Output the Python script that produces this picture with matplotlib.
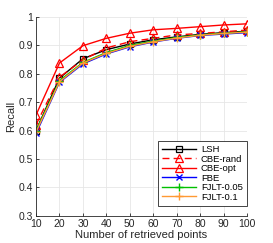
import matplotlib
matplotlib.use("Agg")
import matplotlib.pyplot as plt

x = [10, 20, 30, 40, 50, 60, 70, 80, 90, 100]
lsh = [0.600, 0.785, 0.853, 0.885, 0.905, 0.920, 0.930, 0.939, 0.945, 0.950]
cbe_rand = [0.621, 0.788, 0.849, 0.891, 0.913, 0.925, 0.937, 0.942, 0.948, 0.954]
cbe_opt = [0.655, 0.838, 0.899, 0.925, 0.943, 0.955, 0.960, 0.966, 0.972, 0.976]
fbe = [0.590, 0.770, 0.835, 0.870, 0.895, 0.912, 0.925, 0.935, 0.940, 0.945]
fjlt_005 = [0.600, 0.776, 0.840, 0.875, 0.900, 0.915, 0.928, 0.937, 0.943, 0.948]
fjlt_01 = [0.595, 0.772, 0.838, 0.872, 0.897, 0.913, 0.926, 0.936, 0.942, 0.947]

labels = ["LSH", "CBE-rand", "CBE-opt", "FBE", "FJLT-0.05", "FJLT-0.1"]
xticks = [10, 20, 30, 40, 50, 60, 70, 80, 90, 100]
yticks = [0.3, 0.4, 0.5, 0.6, 0.7, 0.8, 0.9, 1.0]
ytick_labels = ["0.3", "0.4", "0.5", "0.6", "0.7", "0.8", "0.9", "1"]

plt.rcParams['font.family'] = ['Liberation Sans', 'DejaVu Sans']
fig = plt.figure(figsize=(2.73, 2.43), dpi=100)
ax = fig.add_axes([0.132, 0.112, 0.773, 0.818])

lw = 1.0
ms = 4.5
ax.plot(x, lsh, color='black', ls='-', lw=lw, marker='s', ms=ms-0.5, mfc='none', mew=0.9, label=labels[0])
ax.plot(x, cbe_rand, color='#ff0000', ls=(0, (5, 3)), lw=lw, marker='^', ms=ms+1.5, mfc='none', mew=0.9, label=labels[1])
ax.plot(x, cbe_opt, color='#ff0000', ls='-', lw=lw, marker='^', ms=ms+1.5, mfc='none', mew=0.9, label=labels[2])
ax.plot(x, fbe, color='#0000ff', ls='-', lw=lw, marker='x', ms=ms-0.5, mew=1.0, label=labels[3])
ax.plot(x, fjlt_005, color='#00c000', ls='-', lw=lw, marker='+', ms=ms+1.5, mew=1.0, label=labels[4])
ax.plot(x, fjlt_01, color='#ff9933', ls='-', lw=lw, marker='+', ms=ms+1.5, mew=1.0, label=labels[5])

ax.set_xlim(10, 100)
ax.set_ylim(0.3, 1.0)
ax.set_xticks(xticks)
ax.set_yticks(yticks)
ax.set_yticklabels(ytick_labels)
ax.tick_params(direction='in', length=2.5, width=0.6, labelsize=7.5, colors='#262626', pad=2)
ax.grid(True, color='#e6e6e6', lw=0.6)
ax.set_axisbelow(True)
for s in ['top', 'right']:
    ax.spines[s].set_visible(False)
for s in ['left', 'bottom']:
    ax.spines[s].set_color('#262626')
    ax.spines[s].set_linewidth(0.6)

ax.set_xlabel("Number of retrieved points", fontsize=8, color='#262626', labelpad=1)
ax.set_ylabel("Recall", fontsize=8, color='#262626', labelpad=2)

leg = ax.legend(loc='lower right', bbox_to_anchor=(1.0, 0.05), fontsize=6.8, frameon=True,
                fancybox=False, edgecolor='#262626', framealpha=1, handlelength=3.6,
                handletextpad=0.5, labelspacing=0.05, borderpad=0.45, borderaxespad=0.0)
leg.get_frame().set_linewidth(0.6)

fig.savefig("out.png", dpi=100)
